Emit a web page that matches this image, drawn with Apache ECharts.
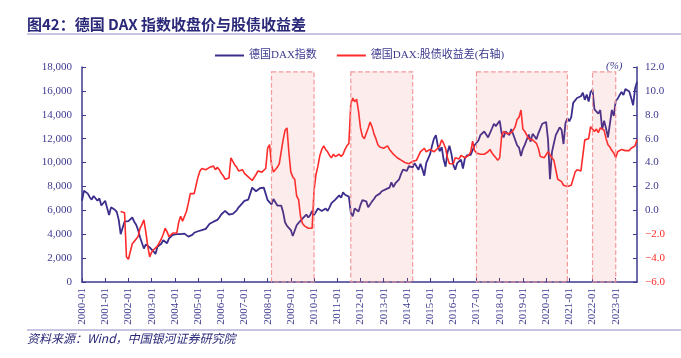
<!DOCTYPE html>
<html><head><meta charset="utf-8">
<script src="https://cdn.jsdelivr.net/npm/echarts@6/dist/echarts.min.js"></script>
<style>html,body{margin:0;padding:0;background:#fff}#c{width:681px;height:358px}</style>
</head><body><div id="c"></div>
<script>
// Categories: monthly, 2000-01 .. 2023-12
var categories = [];
for (var y = 2000; y <= 2023; y++) for (var m = 1; m <= 12; m++) categories.push(y + '-' + (m < 10 ? '0' + m : m));

// DAX index (left axis)
var dax2000 = [6800,7650,7600,7400,7100,6900,7200,7200,6800,7000,6400,6450];
var dax2001 = [6800,6200,5600,6250,6100,6050,5850,5200,4000,4550,5050,5150];
var dax2002 = [5100,5050,5400,5050,4800,4350,3750,3700,2800,3150,3300,2900];
var dax2003 = [2750,2550,2350,2950,3000,3200,3500,3480,3250,3650,3750,3950];
var dax2004 = [4050,4000,3850,4000,3900,4050,3900,3800,3900,3950,4120,4250];
var dax2005 = [4250,4350,4350,4200,4450,4600,4880,4830,5050,4930,5200,5400];
var dax2006 = [5650,5800,5950,6000,5650,5650,5700,5850,6000,6250,6300,6600];
var dax2007 = [6800,6700,6900,7400,7900,8000,7600,7650,7850,8000,7900,8050];
var dax2008 = [6850,6750,6500,6950,7100,6400,6450,6400,5850,5000,4700,4800];
var dax2009 = [4350,3850,3800,4750,4950,4800,5300,5450,5650,5400,5600,5950];
var dax2010 = [5600,5600,6150,6150,5950,5950,6150,5950,6250,6600,6700,6900];
var dax2011 = [7050,7250,7050,7500,7300,7400,7150,5800,5500,6150,6100,5900];
var dax2012 = [6450,6850,6950,6750,6250,6400,6750,6950,7200,7250,7400,7600];
var dax2013 = [7750,7750,7800,7900,8350,7950,8250,8100,8600,9050,9400,9550];
var dax2014 = [9300,9700,9550,9600,9950,9850,9400,9900,9450,8900,9950,9800];
var dax2015 = [10700,11400,12000,12300,11400,10950,11300,10250,9650,10850,11400,10750];
var dax2016 = [9800,9400,9950,10050,10250,9500,10350,10600,10500,10650,10650,11450];
var dax2017 = [11550,11850,12300,12450,12600,12350,12100,12050,12850,13250,13050,12900];
var dax2018 = [13500,12450,12100,12600,12600,12300,12800,12350,12250,11450,11250,10550];
var dax2019 = [11150,11500,11500,12350,11750,12400,12200,11950,12450,12850,13250,13250];
var dax2020 = [13400,11900,8600,10850,11600,12300,12300,12950,12750,11550,13300,13700];
var dax2021 = [13450,13800,15000,15150,15400,15550,15550,15850,15250,15700,15100,15900];
var dax2022 = [16100,14450,14400,14100,14400,12800,13500,12850,12100,13250,14400,13900];
var dax2023 = [15150,15350,15650,15900,15650,16150,16300,15950,15400,14800,16200,16750];

// Equity-bond yield spread, % (right axis); starts 2001-09
var spreadPre = [null,null,null,null,null,null,null,null,null,null,null,null,null,null,null,null,null,null,null,null];
var spr2001 = [-0.1,0.0,-0.2,-3.9];
var spr2002 = [-4.1,-4.0,-2.8,-2.6,-2.5,-2.2,-1.5,-1.2,-0.8,-1.8,-3.0,-3.9];
var spr2003 = [-3.5,-3.3,-3.4,-3.0,-2.7,-2.4,-2.0,-1.5,-1.8,-2.2,-2.1,-1.9];
var spr2004 = [-1.9,-1.9,-1.0,-0.5,-0.9,-0.8,-0.1,0.6,1.4,1.5,1.4,1.5];
var spr2005 = [2.8,3.3,3.5,3.6,3.4,3.3,3.6,3.5,3.7,3.4,3.6,3.4];
var spr2006 = [3.1,2.9,2.6,2.6,2.7,4.4,4.1,3.8,3.6,3.3,3.2,3.4];
var spr2007 = [3.1,3.0,2.8,2.7,2.5,2.4,3.0,3.3,3.4,3.2,3.3,3.5];
var spr2008 = [5.2,5.5,3.8,3.2,3.1,3.6,3.9,4.0,5.9,6.7,6.9,4.8];
var spr2009 = [3.2,2.8,2.6,1.2,0.9,-0.5,-1.1,-1.3,-1.4,-1.5,-1.5,-1.5];
var spr2010 = [1.7,3.0,3.7,4.6,5.1,5.4,5.1,4.9,4.6,4.4,4.7,4.5];
var spr2011 = [4.6,4.7,4.5,4.7,5.1,5.4,5.6,8.9,9.4,9.1,9.3,8.3];
var spr2012 = [6.9,6.2,6.0,6.1,6.9,7.4,7.0,6.4,6.0,5.5,5.3,5.2];
var spr2013 = [5.2,5.3,5.4,5.1,4.9,4.7,4.6,4.4,4.4,4.2,4.1,4.0];
var spr2014 = [4.0,3.9,4.0,4.1,4.0,4.2,4.3,4.9,5.0,5.2,4.9,5.0];
var spr2015 = [5.1,5.0,4.9,4.8,5.2,5.4,5.9,5.6,5.2,4.4,3.9,3.9];
var spr2016 = [3.9,4.4,4.5,4.3,4.6,4.5,4.4,4.5,4.6,4.9,5.8,5.0];
var spr2017 = [4.8,4.9,4.7,4.8,4.7,4.6,4.9,5.1,4.8,4.6,4.4,4.2];
var spr2018 = [4.4,6.2,6.6,6.7,6.4,6.4,6.5,6.7,7.0,7.6,7.8,8.4];
var spr2019 = [6.8,6.6,6.3,6.0,5.9,5.9,6.0,5.6,5.2,4.5,4.4,4.4];
var spr2020 = [4.4,4.9,5.0,4.4,4.2,3.4,2.6,2.5,2.4,2.1,2.0,2.0];
var spr2021 = [2.0,2.1,2.2,3.2,3.4,3.4,3.3,3.4,5.9,5.9,6.0,7.0];
var spr2022 = [7.1,6.6,6.8,6.5,6.9,7.0,6.7,6.0,5.5,5.3,5.0,4.8];
var spr2023 = [4.4,4.9,5.0,5.1,5.0,5.0,5.1,5.0,5.2,5.3,5.4,5.9];

// Shaded periods
var shadeStarts = ['2008-03','2011-08','2017-01','2022-01'];
var shadeEnds   = ['2010-01','2014-04','2020-12','2023-01'];
var shadeTop = 11.6, shadeBottom = -6;

var leftTicks = {min:0, max:18000, interval:2000};
var rightTicks = {min:-6, max:12, interval:2};

var daxValues = [].concat(dax2000,dax2001,dax2002,dax2003,dax2004,dax2005,dax2006,dax2007,dax2008,dax2009,dax2010,dax2011,dax2012,dax2013,dax2014,dax2015,dax2016,dax2017,dax2018,dax2019,dax2020,dax2021,dax2022,dax2023);
var spreadValues = [].concat(spreadPre,spr2001,spr2002,spr2003,spr2004,spr2005,spr2006,spr2007,spr2008,spr2009,spr2010,spr2011,spr2012,spr2013,spr2014,spr2015,spr2016,spr2017,spr2018,spr2019,spr2020,spr2021,spr2022,spr2023);

var NAVY = '#3d3a8e';
var BLUE = '#3a2d8c';
var RED = '#ff2a2a';
var SERIF = "'Liberation Serif','Times New Roman','Noto Sans CJK SC',serif";

var areas = shadeStarts.map(function(s, i){
  return [{xAxis: s, yAxis: shadeTop}, {xAxis: shadeEnds[i], yAxis: shadeBottom}];
});

var chart = echarts.init(document.getElementById('c'));
chart.setOption({
  animation: false,
  backgroundColor: '#fff',
  grid: {left: 82, right: 44, top: 67, bottom: 76, containLabel: false},
  graphic: [
    {type:'text', left: 27, top: 17, style:{text:'图42：德国 DAX 指数收盘价与股债收益差', font:"bold 15px 'Noto Sans CJK SC', sans-serif", fill:'#2a2878'}},
    {type:'line', shape:{x1:27, y1:34, x2:681, y2:34}, style:{stroke:'#8f8cc4', lineWidth:1}},
    {type:'line', shape:{x1:27, y1:330, x2:681, y2:330}, style:{stroke:'#8f8cc4', lineWidth:1}},
    {type:'text', left: 27, top: 332, style:{text:'资料来源：Wind，中国银河证券研究院', font:"italic 12px 'Noto Sans CJK SC', sans-serif", fill:'#2a2878'}},
    {type:'text', left: 606, top: 61, style:{text:'(%)', font:"italic 11px " + SERIF, fill: NAVY}}
  ],
  legend: {
    left: 210, top: 45, itemWidth: 29, itemHeight: 2, itemGap: 20, icon: 'rect',
    textStyle: {fontSize: 11, color: NAVY, fontFamily: SERIF},
    data: ['德国DAX指数', '德国DAX:股债收益差(右轴)']
  },
  xAxis: {
    type: 'category', data: categories, boundaryGap: false,
    axisLine: {lineStyle: {color: NAVY, width: 1.5}},
    axisTick: {inside: true, interval: 11, length: 4, lineStyle:{color: NAVY}},
    axisLabel: {interval: 11, rotate: 90, color: NAVY, fontSize: 11, fontFamily: SERIF, margin: 6},
    splitLine: {show: false}
  },
  yAxis: [
    {type: 'value', min: leftTicks.min, max: leftTicks.max, interval: leftTicks.interval,
     axisLine: {show: true, lineStyle: {color: NAVY, width: 1.5}},
     axisTick: {show: true, inside: true, length: 4, lineStyle:{color: NAVY}},
     axisLabel: {color: NAVY, fontSize: 11, fontFamily: SERIF, margin: 10,
       formatter: function(v){ return v.toLocaleString('en-US'); }},
     splitLine: {show: false}},
    {type: 'value', min: rightTicks.min, max: rightTicks.max, interval: rightTicks.interval, position: 'right',
     axisLine: {show: true, lineStyle: {color: NAVY, width: 1.5}},
     axisTick: {show: true, inside: true, length: 4, lineStyle:{color: NAVY}},
     axisLabel: {fontSize: 11, fontFamily: SERIF, margin: 8,
       formatter: function(v){ var t = v.toFixed(1); return v < 0 ? '{n|' + t.replace('-', '−') + '}' : '{p|' + t + '}'; },
       rich: {n: {color: RED, fontSize: 11, fontFamily: SERIF}, p: {color: NAVY, fontSize: 11, fontFamily: SERIF}}},
     splitLine: {show: false}}
  ],
  series: [
    {name: '德国DAX指数', type: 'line', data: daxValues, yAxisIndex: 0, showSymbol: false,
     lineStyle: {color: BLUE, width: 1.8}, itemStyle: {color: BLUE}, z: 2},
    {name: '德国DAX:股债收益差(右轴)', type: 'line', data: spreadValues, yAxisIndex: 1, showSymbol: false,
     lineStyle: {color: RED, width: 1.6}, itemStyle: {color: RED}, z: 3,
     markArea: {silent: true, z: 10,
       itemStyle: {color: 'rgba(240,100,100,0.12)', borderColor: '#f49a9a', borderWidth: 1.2, borderType: 'dashed'},
       data: areas
     }}
  ]
});
</script></body></html>
